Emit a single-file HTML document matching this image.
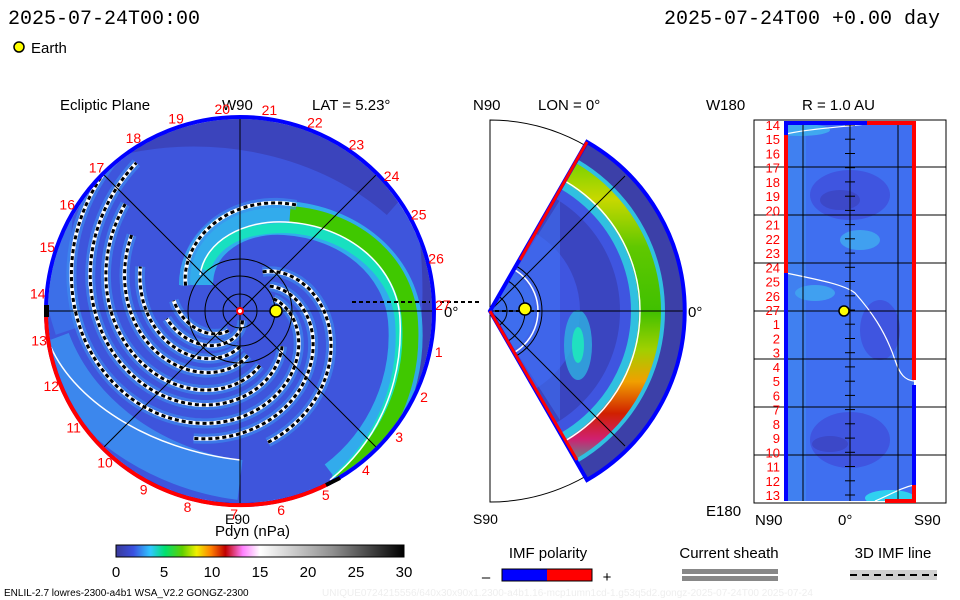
<!DOCTYPE html>
<html><head><meta charset="utf-8"><style>
html,body{margin:0;padding:0;background:#fff;}
svg{display:block;font-family:"Liberation Sans",sans-serif;}
</style></head><body>
<svg id="s" width="960" height="600" viewBox="0 0 960 600" xmlns="http://www.w3.org/2000/svg">
<defs>
<clipPath id="diskclip"><circle cx="240" cy="311" r="192"/></clipPath>
<clipPath id="wedgeclip"><path d="M490,311 L587,142 A195,195 0 0 1 587,480 Z"/></clipPath>
<clipPath id="rectclip"><rect x="786" y="123" width="128" height="378"/></clipPath>
<linearGradient id="cbar" x1="0" x2="1" y1="0" y2="0">
<stop offset="0" stop-color="#3a3a9a"/><stop offset="0.06" stop-color="#3a50e0"/><stop offset="0.12" stop-color="#30c8ff"/>
<stop offset="0.17" stop-color="#00e070"/><stop offset="0.23" stop-color="#60d000"/><stop offset="0.28" stop-color="#f0f000"/>
<stop offset="0.33" stop-color="#ff8000"/><stop offset="0.38" stop-color="#c00000"/><stop offset="0.44" stop-color="#ff80ff"/>
<stop offset="0.5" stop-color="#ffffff"/><stop offset="0.75" stop-color="#909090"/><stop offset="1" stop-color="#000"/>
</linearGradient>
<linearGradient id="wband" x1="0" x2="0" y1="0" y2="1">
<stop offset="0" stop-color="#60d000"/><stop offset="0.15" stop-color="#c8d800"/><stop offset="0.3" stop-color="#60c800"/><stop offset="0.5" stop-color="#40c000"/>
<stop offset="0.62" stop-color="#a0d000"/><stop offset="0.72" stop-color="#f0a000"/><stop offset="0.82" stop-color="#d02000"/><stop offset="0.9" stop-color="#d02070"/><stop offset="1" stop-color="#20c0a0"/>
</linearGradient>
</defs>

<text x="8" y="24" font-size="20" font-family="Liberation Mono,monospace">2025-07-24T00:00</text>
<text x="940" y="24" font-size="20" text-anchor="end" font-family="Liberation Mono,monospace">2025-07-24T00 +0.00 day</text>
<circle cx="19" cy="47" r="5" fill="#ff0" stroke="#000" stroke-width="1.5"/>
<text x="31" y="53" font-size="15">Earth</text>

<!-- ===== Ecliptic plane ===== -->
<g>
<text x="60" y="110" font-size="15">Ecliptic Plane</text>
<text x="222" y="110" font-size="15">W90</text>
<text x="312" y="110" font-size="15">LAT = 5.23°</text>
<text x="225" y="524" font-size="14">E90</text>
<text x="444" y="317" font-size="15">0°</text>
<g clip-path="url(#diskclip)" id="diskg">
<circle cx="240" cy="311" r="194" fill="#3e55dc"/>
<path d="M100,140 C200,110 320,130 400,200" stroke="#3b40b4" stroke-width="40" fill="none" opacity="0.8"/>
<path d="M430,200 C445,300 440,400 390,450" stroke="#3b40b4" stroke-width="30" fill="none"/>
<path d="M50,340 C80,420 160,470 240,480" stroke="#3c90f0" stroke-width="40" fill="none" opacity="0.85"/>
<path d="M60,200 C50,260 60,300 70,330" stroke="#3c80f0" stroke-width="30" fill="none" opacity="0.6"/>
<path d="M196,285 C196,240 240,215 285,218 C350,222 400,265 405,320 C410,380 385,440 335,478" stroke="#30c0f0" stroke-width="34" fill="none" opacity="0.8"/>
<path d="M205,270 C215,240 245,228 285,228 C345,230 395,270 400,320 C405,380 382,440 335,480" stroke="#18e0c0" stroke-width="10" fill="none"/>
<path d="M290,214 C357,219 407,264 410,322 C414,383 390,440 340,481" stroke="#40c800" stroke-width="16" fill="none"/>
<path d="M48,340 C70,400 150,450 240,460" stroke="#fff" stroke-width="1.5" fill="none"/>
<g id="spirals"></g>
<path d="M200,275 C205,240 245,220 285,222 C350,225 398,268 400,320 C403,380 380,440 330,480" stroke="#fff" stroke-width="1.5" fill="none"/>
<g stroke="#000" stroke-width="1" fill="none">
<line x1="240" y1="117" x2="240" y2="505"/><line x1="46" y1="311" x2="434" y2="311"/>
<line x1="103" y1="174" x2="377" y2="448"/><line x1="103" y1="448" x2="377" y2="174"/>
<circle cx="240" cy="311" r="17"/><circle cx="240" cy="311" r="35"/><circle cx="240" cy="311" r="52"/>
</g>
</g>
<circle cx="240" cy="311" r="194" fill="none" stroke="#0000ff" stroke-width="4"/>
<path d="M46,311 A194,194 0 0 0 330,483" fill="none" stroke="#ff0000" stroke-width="4"/>
<rect x="44" y="305" width="5" height="12" fill="#000"/>
<line x1="326" y1="485" x2="340" y2="478" stroke="#000" stroke-width="4"/>
<line x1="352" y1="302" x2="430" y2="302" stroke="#000" stroke-width="2" stroke-dasharray="4 3"/>
<line x1="440" y1="302" x2="480" y2="302" stroke="#000" stroke-width="2" stroke-dasharray="4 3"/>
<circle cx="240" cy="311" r="3" fill="#fff" stroke="#f00" stroke-width="2"/>
<circle cx="276" cy="311" r="6" fill="#ff0" stroke="#000" stroke-width="1.5"/>
<g id="diskLabels" fill="#ff0000" font-size="14"></g>
</g>

<!-- ===== Meridional ===== -->
<g>
<text x="473" y="110" font-size="15">N90</text>
<text x="538" y="110" font-size="15">LON = 0°</text>
<text x="473" y="524" font-size="14">S90</text>
<text x="688" y="317" font-size="15">0°</text>
<path d="M490,120 A191,191 0 0 1 490,502 Z" fill="none" stroke="#000" stroke-width="1"/>
<g clip-path="url(#wedgeclip)">
<rect x="488" y="120" width="200" height="385" fill="#3f55e0"/>
<circle cx="490" cy="311" r="183" fill="none" stroke="#3c40a8" stroke-width="24"/>
<circle cx="490" cy="311" r="110" fill="none" stroke="#3a45c0" stroke-width="40"/>
<path d="M490,311 L560,200 L560,420 Z" fill="#3f70f0" opacity="0.6"/>
<ellipse cx="578" cy="345" rx="14" ry="35" fill="#30b0e0" opacity="0.8"/>
<ellipse cx="578" cy="345" rx="6" ry="18" fill="#20e0c0"/>
<circle cx="490" cy="311" r="158" fill="none" stroke="#30c0e0" stroke-width="34"/>
<circle cx="490" cy="311" r="160" fill="none" stroke="url(#wband)" stroke-width="22"/>
<circle cx="490" cy="311" r="150" fill="none" stroke="#fff" stroke-width="1.5"/>
<circle cx="490" cy="311" r="45" fill="#3f70f0" opacity="0.7"/>
<circle cx="490" cy="311" r="48" fill="none" stroke="#fff" stroke-width="1.5"/>
<g stroke="#000" stroke-width="1" fill="none">
<line x1="490" y1="311" x2="687" y2="311"/><line x1="490" y1="311" x2="625" y2="176"/><line x1="490" y1="311" x2="625" y2="446"/>
<circle cx="490" cy="311" r="17"/><circle cx="490" cy="311" r="35"/><circle cx="490" cy="311" r="52"/>
</g>
</g>
<path d="M490,311 L587,142 A195,195 0 0 1 587,480 Z" fill="none" stroke="#0000ff" stroke-width="4"/>
<path d="M520,260 L587,142" stroke="#f00" stroke-width="3"/>
<path d="M490,311 L577,460" stroke="#f00" stroke-width="3"/>
<line x1="495" y1="311" x2="540" y2="311" stroke="#000" stroke-width="2" stroke-dasharray="4 3"/>
<circle cx="525" cy="309" r="6" fill="#ff0" stroke="#000" stroke-width="1.5"/>
</g>

<!-- ===== R=1 AU map ===== -->
<g>
<text x="706" y="110" font-size="15">W180</text>
<text x="802" y="110" font-size="15">R = 1.0 AU</text>
<text x="706" y="516" font-size="15">E180</text>
<text x="755" y="525" font-size="15">N90</text>
<text x="838" y="525" font-size="15">0°</text>
<text x="914" y="525" font-size="15">S90</text>
<rect x="754" y="120" width="192" height="383" fill="none" stroke="#000" stroke-width="1"/>
<g clip-path="url(#rectclip)">
<rect x="786" y="123" width="128" height="378" fill="#3f6ff0"/>
<rect x="786" y="123" width="20" height="378" fill="#4080f0"/>
<ellipse cx="850" cy="195" rx="40" ry="25" fill="#3f55e0"/>
<ellipse cx="840" cy="200" rx="20" ry="10" fill="#3c48c8"/>
<ellipse cx="850" cy="440" rx="40" ry="28" fill="#3f55e0"/>
<ellipse cx="830" cy="444" rx="18" ry="8" fill="#3c48c8"/>
<ellipse cx="880" cy="330" rx="20" ry="30" fill="#3f55e0"/>
<ellipse cx="815" cy="293" rx="20" ry="8" fill="#40a0f0"/>
<ellipse cx="860" cy="240" rx="20" ry="10" fill="#40a0f0"/>
<ellipse cx="800" cy="130" rx="30" ry="6" fill="#40a8f0"/>
<ellipse cx="890" cy="498" rx="25" ry="8" fill="#30d0f0"/>
<path d="M786,134 C810,128 860,126 870,123" stroke="#fff" stroke-width="1.2" fill="none"/>
<path d="M786,273 C820,280 845,285 855,293 C870,310 885,330 895,360 C900,375 905,380 914,381" stroke="#fff" stroke-width="1.2" fill="none"/>
<path d="M875,501 C890,495 900,488 914,485" stroke="#fff" stroke-width="1.2" fill="none"/>
</g>
<g stroke="#000" stroke-width="1">
<line x1="754" y1="167" x2="946" y2="167"/><line x1="754" y1="215" x2="946" y2="215"/><line x1="754" y1="263" x2="946" y2="263"/>
<line x1="754" y1="311" x2="946" y2="311"/><line x1="754" y1="359" x2="946" y2="359"/><line x1="754" y1="407" x2="946" y2="407"/>
<line x1="754" y1="455" x2="946" y2="455"/>
<line x1="803" y1="123" x2="803" y2="501"/><line x1="850" y1="123" x2="850" y2="501"/><line x1="898" y1="123" x2="898" y2="501"/>
</g>
<g id="rectTicks" stroke="#000" stroke-width="1"></g>
<path d="M786,501 L786,273 M786,135 L786,123 L867,123 M914,385 L914,501 L885,501" fill="none" stroke="#0000ff" stroke-width="4"/>
<path d="M786,135 L786,273 M867,123 L914,123 L914,380 M885,501 L914,501 L914,485" fill="none" stroke="#ff0000" stroke-width="4"/>
<circle cx="844" cy="311" r="5" fill="#ff0" stroke="#000" stroke-width="1.5"/>
<g id="rectLabels" fill="#ff0000" font-size="13" text-anchor="end"></g>
</g>

<text x="215" y="536" font-size="15">Pdyn (nPa)</text>
<rect x="116" y="545" width="288" height="12" fill="url(#cbar)" stroke="#000" stroke-width="1"/>
<g id="cbarTicks" font-size="15" text-anchor="middle"></g>
<text x="548" y="558" font-size="15" text-anchor="middle">IMF polarity</text>
<text x="486" y="582" font-size="15" text-anchor="middle">–</text>
<rect x="502" y="569" width="45" height="12" fill="#0000ff"/>
<rect x="547" y="569" width="45" height="12" fill="#ff0000"/>
<rect x="502" y="569" width="90" height="12" fill="none" stroke="#000"/>
<text x="607" y="582" font-size="15" text-anchor="middle">+</text>
<text x="729" y="558" font-size="15" text-anchor="middle">Current sheath</text>
<rect x="682" y="569" width="96" height="5" fill="#888"/>
<rect x="682" y="576" width="96" height="5" fill="#888"/>
<text x="893" y="558" font-size="15" text-anchor="middle">3D IMF line</text>
<rect x="850" y="570" width="87" height="10" fill="#d0d0d0"/>
<line x1="850" y1="575" x2="937" y2="575" stroke="#000" stroke-width="2" stroke-dasharray="7 5"/>
<text x="4" y="596" font-size="10">ENLIL-2.7 lowres-2300-a4b1 WSA_V2.2 GONGZ-2300</text>
<text x="322" y="596" font-size="10" fill="#eeeeee">UNIQUE0724215556/640x30x90x1.2300-a4b1.16-mcp1umn1cd-1.g53q5d2.gongz-2025-07-24T00   2025-07-24</text>
</svg>
<script>
const NS="http://www.w3.org/2000/svg";
const diskLabels=["20","21","22","23","24","25","26","27","1","2","3","4","5","6","7","8","9","10","11","12","13","14","15","16","17","18","19"];
const rectLabels=["14","15","16","17","18","19","20","21","22","23","24","25","26","27","1","2","3","4","5","6","7","8","9","10","11","12","13"];
const cbarTicks=[0,5,10,15,20,25,30];
const cbarMax=30;
const gD=document.getElementById('diskLabels');
diskLabels.forEach((t,i)=>{
  const a=(-95+i*360/27)*Math.PI/180;
  const x=240+203*Math.cos(a), y=311+203*Math.sin(a)+5;
  const el=document.createElementNS(NS,'text');
  el.setAttribute('x',x.toFixed(1));el.setAttribute('y',y.toFixed(1));el.setAttribute('text-anchor','middle');
  el.textContent=t;
  
  
  gD.appendChild(el);
});
const gR=document.getElementById('rectLabels'), gT=document.getElementById('rectTicks');
const y0=125,y1=495;
rectLabels.forEach((t,i)=>{
  const y=y0+i*(y1-y0)/(rectLabels.length-1);
  const el=document.createElementNS(NS,'text');
  el.setAttribute('x','780');el.setAttribute('y',(y+5).toFixed(1));el.textContent=t;
  
  
  gR.appendChild(el);
  const l=document.createElementNS(NS,'line');
  l.setAttribute('x1','845');l.setAttribute('x2','855');l.setAttribute('y1',y.toFixed(1));l.setAttribute('y2',y.toFixed(1));
  gT.appendChild(l);
});
const gC=document.getElementById('cbarTicks');
cbarTicks.forEach(v=>{
  const x=116+288*v/cbarMax;
  const el=document.createElementNS(NS,'text');
  el.setAttribute('x',x);el.setAttribute('y','577');el.textContent=v;
  
  
  gC.appendChild(el);
});
const spirals=[[-75,-20,240],[-45,40,235],[-20,70,225],[10,80,215],[35,90,205],[60,60,175],[-100,-40,110],[-130,-60,80],[85,120,190],[112,205,300]];
const K=37;
const gS=document.getElementById('spirals');
spirals.forEach(s=>{
  let d='';
  for(let th=s[1];th<=s[2];th+=3){
    const r=K*(th-s[0])*Math.PI/180;
    if(r<8) continue;
    const a=th*Math.PI/180;
    d+=(d?'L':'M')+(240+r*Math.cos(a)).toFixed(1)+','+(311+r*Math.sin(a)).toFixed(1);
  }
  const bg=document.createElementNS(NS,'path');
  bg.setAttribute('d',d);bg.setAttribute('fill','none');bg.setAttribute('stroke','#3c90f0');bg.setAttribute('stroke-width','10');bg.setAttribute('opacity','0.6');
  gS.appendChild(bg);
  const w=document.createElementNS(NS,'path');
  w.setAttribute('d',d);w.setAttribute('fill','none');w.setAttribute('stroke','#fff');w.setAttribute('stroke-width','4');
  gS.appendChild(w);
  const k=document.createElementNS(NS,'path');
  k.setAttribute('d',d);k.setAttribute('fill','none');k.setAttribute('stroke','#000');k.setAttribute('stroke-width','3');k.setAttribute('stroke-dasharray','4 3');
  
  
  gS.appendChild(k);
});
</script>
</body></html>
